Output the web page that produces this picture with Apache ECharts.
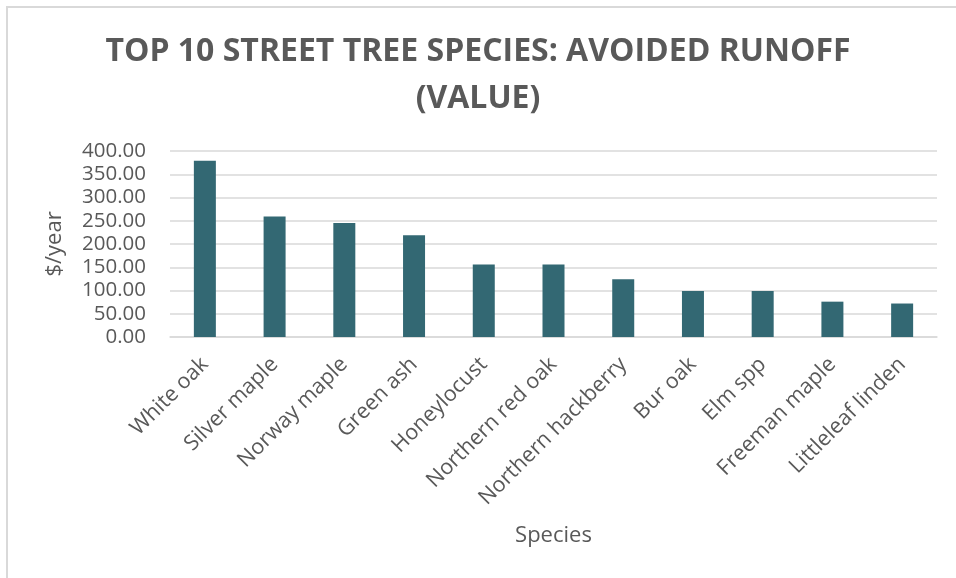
<!DOCTYPE html>
<html>
<head>
<meta charset="utf-8">
<script src="https://cdn.jsdelivr.net/npm/echarts@6/dist/echarts.min.js"></script>
<style>
html,body{margin:0;padding:0;background:#fff;}
#chart{width:956px;height:578px;}
</style>
</head>
<body>
<div id="chart"></div>
<script>
const categories = ['White oak','Silver maple','Norway maple','Green ash','Honeylocust','Northern red oak','Northern hackberry','Bur oak','Elm spp','Freeman maple','Littleleaf linden'];
const values = [379, 259, 245, 219, 156, 156, 124, 99, 99, 76, 72];
const yTicks = {min: 0, max: 400, interval: 50};

const chart = echarts.init(document.getElementById('chart'));
const font = 'Open Sans';
chart.setOption({
  animation: false,
  backgroundColor: '#ffffff',
  title: {
    text: 'TOP 10 STREET TREE SPECIES: AVOIDED RUNOFF\n(VALUE)',
    left: 'center',
    top: 23,
    padding: [5, 5, 5, 19],
    textStyle: {fontFamily: font, fontSize: 32, fontWeight: 'bold', color: '#595959', lineHeight: 47}
  },
  graphic: [
    {type: 'line', shape: {x1: 6, y1: 7, x2: 956, y2: 7}, style: {stroke: '#d9d9d9', lineWidth: 2}},
    {type: 'line', shape: {x1: 7, y1: 6, x2: 7, y2: 578}, style: {stroke: '#d9d9d9', lineWidth: 2}}
  ],
  grid: {left: 170, right: 19, top: 151, bottom: 241, containLabel: false},
  xAxis: {
    type: 'category',
    data: categories,
    name: 'Species',
    nameLocation: 'middle',
    nameGap: 188,
    nameTextStyle: {fontFamily: font, fontSize: 22, color: '#595959'},
    axisLine: {lineStyle: {color: '#d9d9d9', width: 1.5}},
    axisTick: {show: false},
    axisLabel: {rotate: 45, interval: 0, fontFamily: font, fontSize: 21.5, color: '#595959', margin: 24}
  },
  yAxis: {
    type: 'value',
    min: yTicks.min,
    max: yTicks.max,
    interval: yTicks.interval,
    name: '$/year',
    nameLocation: 'middle',
    nameGap: 104,
    nameTextStyle: {fontFamily: font, fontSize: 22, color: '#595959'},
    axisLine: {show: false},
    axisTick: {show: false},
    axisLabel: {fontFamily: font, fontSize: 20.5, color: '#595959', margin: 24, formatter: v => v.toFixed(2)},
    splitLine: {lineStyle: {color: '#d9d9d9', width: 1.5}}
  },
  series: [{
    type: 'bar',
    data: values,
    barWidth: 22,
    itemStyle: {color: '#336873'}
  }]
});
</script>
</body>
</html>
